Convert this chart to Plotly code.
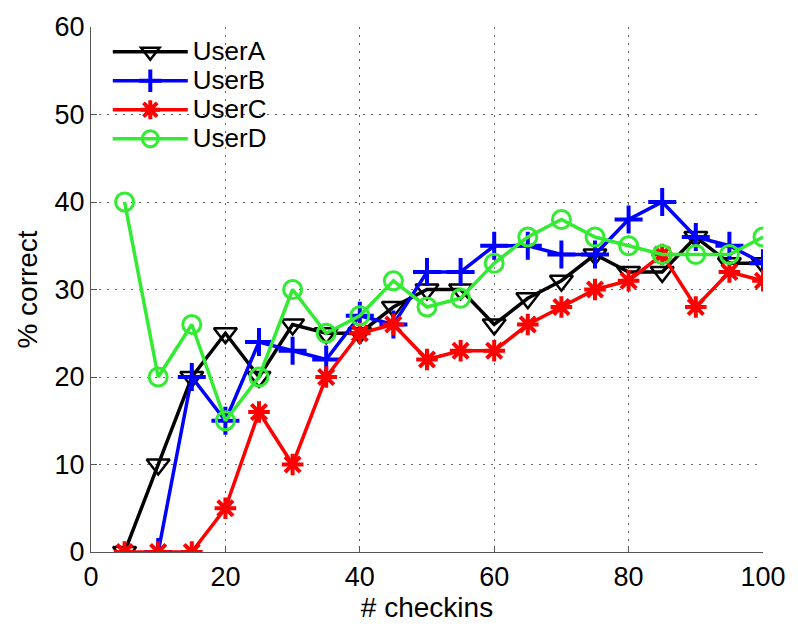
import plotly.graph_objects as go

checkins = [5, 10, 15, 20, 25, 30, 35, 40, 45, 50, 55, 60, 65, 70, 75, 80, 85, 90, 95, 100]
user_a = [0, 10, 20, 25, 20, 26, 25, 25, 28, 30, 30, 26, 29, 31, 34, 32, 32, 36, 33, 33]
user_b = [None, 0, 20, 15, 24, 23, 22, 27, 26, 32, 32, 35, 35, 34, 34, 38, 40, 36, 35, 33]
user_c = [0, 0, 0, 5, 16, 10, 20, 25, 26, 22, 23, 23, 26, 28, 30, 31, 34, 28, 32, 31]
user_d = [40, 20, 26, 15, 20, 30, 25, 27, 31, 28, 29, 33, 36, 38, 36, 35, 34, 34, 34, 36]

x_ticks = [0, 20, 40, 60, 80, 100]
y_ticks = [0, 10, 20, 30, 40, 50, 60]

series = [
    ("UserA", user_a, "black", "triangle-down-open", 20, 2.5),
    ("UserB", user_b, "blue", "cross-thin-open", 20, 4),
    ("UserC", user_c, "red", "asterisk-open", 18, 4),
    ("UserD", user_d, "rgb(50,235,50)", "circle-open", 18, 3),
]

fig = go.Figure()
for name, ys, color, sym, size, lw in series:
    fig.add_trace(go.Scatter(
        x=checkins, y=ys, name='<span style="font-size:26px">%s</span>' % name,
        mode="lines+markers",
        line=dict(color=color, width=3.5),
        marker=dict(symbol=sym, size=size, color=color,
                    line=dict(color=color, width=lw)),
    ))

font_family = "Liberation Sans, Arial, Helvetica, sans-serif"
fig.update_layout(
    width=798, height=629,
    margin=dict(l=91, r=31, t=21, b=77),
    paper_bgcolor="white", plot_bgcolor="white",
    font=dict(family=font_family, size=27, color="black"),
    legend=dict(x=0.025, y=0.99, xanchor="left", yanchor="top",
                bgcolor="rgba(0,0,0,0)", borderwidth=0,
                font=dict(size=20), tracegroupgap=0, itemwidth=75),
    showlegend=True,
)
axis_common = dict(
    showline=True, linecolor="#555", linewidth=1.2, mirror=False,
    ticks="inside", ticklen=6, tickcolor="#555",
    showgrid=True, gridcolor="#666", griddash="2px,6px", gridwidth=1.3,
    zeroline=False,
    tickfont=dict(size=27),
)
fig.update_xaxes(range=[0, 100], tickvals=x_ticks,
                 title=dict(text="# checkins", font=dict(size=28), standoff=6),
                 **axis_common)
fig.update_yaxes(range=[0, 60], tickvals=y_ticks,
                 title=dict(text="% correct", font=dict(size=28), standoff=8),
                 **axis_common)

fig.write_html("out.html")
